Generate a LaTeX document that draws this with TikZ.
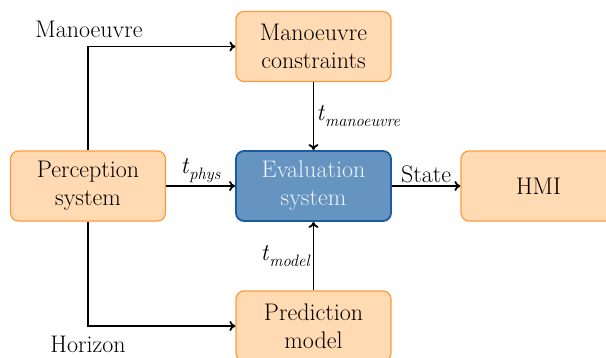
\documentclass[tikz,border=0pt]{standalone}
\usetikzlibrary{arrows.meta}
\definecolor{boxfill}{HTML}{FFDAB2}
\definecolor{boxdraw}{HTML}{FF9A3C}
\definecolor{evalfill}{HTML}{6694C1}
\definecolor{evaldraw}{HTML}{1B5A9E}
\definecolor{evaltext}{HTML}{EEF3F9}
\newcommand\tsub[1]{\textit{t}\raisebox{-0.28em}{\fontsize{16.5}{16.5}\selectfont\textit{#1}}}
\begin{document}
\begin{tikzpicture}[x=1pt,y=-1pt,
  font=\fontsize{24}{28}\selectfont,
  blk/.style={draw=boxdraw,fill=boxfill,line width=1.2pt,rounded corners=8pt,
    minimum width=155pt,minimum height=70pt,align=center,inner sep=0pt},
  evalblk/.style={blk,draw=evaldraw,fill=evalfill,line width=1.8pt,text=evaltext},
  conn/.style={-{To[length=6pt,width=10pt]},line width=1.8pt,black},
  lbl/.style={inner sep=2pt}]
\useasboundingbox (0,0) rectangle (606,357);
\node[blk] (manc) at (313.5,46.5) {Manoeuvre\\constraints};
\node[evalblk] (eval) at (313.5,186) {Evaluation\\system};
\node[blk] (perc) at (88,186) {Perception\\system};
\node[blk] (hmi) at (538.5,186) {HMI};
\node[blk] (pred) at (313.5,326) {Prediction\\model};
\draw[conn] (perc.north) |- (manc.west);
\draw[conn] (perc.south) |- (pred.west);
\draw[conn] (perc.east) -- node[lbl,above] (tphys) {\tsub{phys}} (eval.west);
\draw[conn] (manc.south) -- node[lbl,right] (tman) {\tsub{manoeuvre}} (eval.north);
\draw[conn] (pred.north) -- node[lbl,left] (tmod) {\tsub{model}} (eval.south);
\draw[conn] (eval.east) -- node[lbl,above] (state) {State} (hmi.west);
\node[anchor=base] (manl) at (89,37.5) {Manoeuvre};
\node[anchor=base] (horl) at (88,352) {Horizon};
\end{tikzpicture}
\end{document}
